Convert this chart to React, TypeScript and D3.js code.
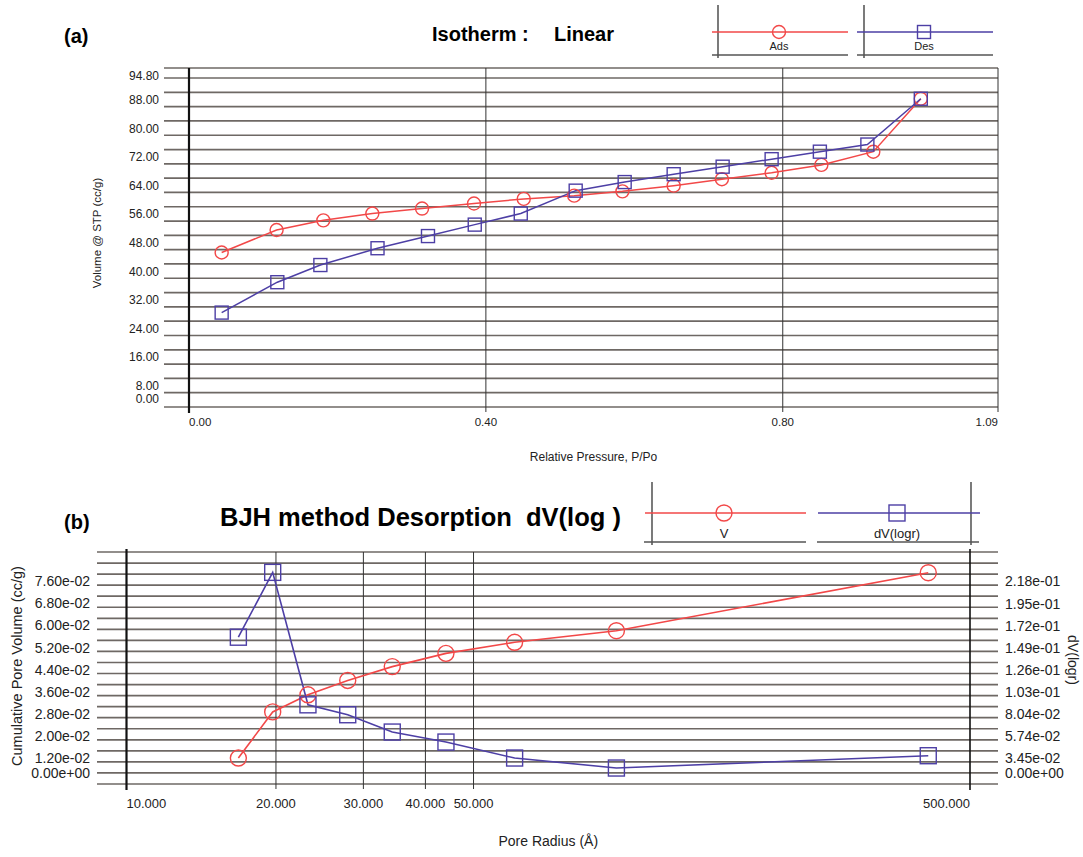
import React from "react";
import * as d3 from "d3";

// (a) isotherm, relative pressure vs volume @ STP
const adsP = [0.044, 0.118, 0.181, 0.247, 0.314, 0.384, 0.451, 0.519, 0.584, 0.653, 0.718, 0.785, 0.852, 0.922, 0.986];
const adsV = [43.2, 49.5, 52.2, 54.1, 55.5, 56.9, 58.2, 59.1, 60.3, 61.9, 63.7, 65.5, 67.7, 71.4, 86.2];
const desP = [0.044, 0.119, 0.177, 0.254, 0.322, 0.385, 0.447, 0.521, 0.587, 0.653, 0.719, 0.785, 0.85, 0.914, 0.986];
const desV = [26.4, 34.9, 39.7, 44.4, 47.8, 51.0, 54.1, 60.5, 62.9, 65.1, 67.2, 69.3, 71.4, 73.4, 86.2];
const isoYTicks = [0, 8, 16, 24, 32, 40, 48, 56, 64, 72, 80, 88, 94.8];
const isoXTicks = [0, 0.4, 0.8, 1.09];

// (b) BJH desorption
const poreR = [16.8, 19.7, 23.2, 27.9, 34.3, 44.0, 60.5, 97, 412];
const cumV = [0.0094, 0.0261, 0.0323, 0.0375, 0.0425, 0.0473, 0.0513, 0.0555, 0.0765];
const dVlogr = [0.1526, 0.22, 0.0823, 0.072, 0.054, 0.0436, 0.027, 0.0166, 0.0294];
const bjhLeftTicks = [0, 0.012, 0.02, 0.028, 0.036, 0.044, 0.052, 0.06, 0.068, 0.076];
const bjhRightTicks = [0, 0.0345, 0.0574, 0.0804, 0.103, 0.126, 0.149, 0.172, 0.195, 0.218];
const bjhXTicks = [10, 20, 30, 40, 50, 500];

const RED = "#f24848";
const BLUE = "#4d3fa5";
const GRID = "#6e6864";
const FONT = "'Liberation Sans', Arial, sans-serif";

const expFmt = (v: number) => {
  const [m, e] = v.toExponential(2).split("e");
  const sign = e[0] === "-" ? "-" : "+";
  const digits = e.replace(/[+-]/, "").padStart(2, "0");
  return `${m}e${sign}${digits}`;
};

function Circle({ x, y, r }: { x: number; y: number; r: number }) {
  return <circle cx={x} cy={y} r={r} fill="none" stroke={RED} strokeWidth={1.4} />;
}
function Square({ x, y, s }: { x: number; y: number; s: number }) {
  return <rect x={x - s / 2} y={y - s / 2} width={s} height={s} fill="none" stroke={BLUE} strokeWidth={1.4} />;
}

function Isotherm() {
  const x = d3.scaleLinear().domain([0, 1.09]).range([189, 998]);
  const y = d3.scaleLinear().domain([0, 94.8]).range([407, 68]);
  const grid = [...d3.range(0, 94.8, 4), 94.8];
  const line = d3.line<[number, number]>().x(d => x(d[0])).y(d => y(d[1]));
  const ads = adsP.map((p, i) => [p, adsV[i]] as [number, number]);
  const des = desP.map((p, i) => [p, desV[i]] as [number, number]);
  const [x0, x1] = x.range();

  return (
    <g fontFamily={FONT}>
      <text x={64} y={43} fontSize={20} fontWeight="bold">(a)</text>
      <text x={432} y={41} fontSize={20} fontWeight="bold">Isotherm :</text>
      <text x={554} y={41} fontSize={20} fontWeight="bold">Linear</text>

      {/* legend */}
      <line x1={718} x2={718} y1={5} y2={58} stroke="#333" strokeWidth={1.3} />
      <line x1={712} x2={848} y1={55} y2={55} stroke="#555" strokeWidth={1.6} />
      <line x1={712} x2={848} y1={32} y2={32} stroke={RED} strokeWidth={1.4} />
      <Circle x={779} y={32} r={6.5} />
      <text x={779} y={50} fontSize={11} textAnchor="middle" fill="#222">Ads</text>
      <line x1={864} x2={864} y1={5} y2={58} stroke="#333" strokeWidth={1.3} />
      <line x1={857} x2={993} y1={55} y2={55} stroke="#555" strokeWidth={1.6} />
      <line x1={857} x2={993} y1={32} y2={32} stroke={BLUE} strokeWidth={1.4} />
      <Square x={924} y={32} s={13} />
      <text x={924} y={50} fontSize={11} textAnchor="middle" fill="#222">Des</text>

      {grid.map(v => (
        <line key={v} x1={164} x2={x1} y1={y(v)} y2={y(v)} stroke={GRID} strokeWidth={1.7} />
      ))}
      {isoXTicks.slice(1, 3).map(v => (
        <line key={v} x1={x(v)} x2={x(v)} y1={y(94.8)} y2={y(0) + 5} stroke="#333" strokeWidth={1} />
      ))}
      <line x1={x1} x2={x1} y1={y(94.8)} y2={y(0) + 5} stroke="#333" strokeWidth={1} />
      <line x1={x0} x2={x0} y1={y(94.8)} y2={y(0) + 6} stroke="#111" strokeWidth={2.2} />

      {isoYTicks.map(v => (
        <text key={v} x={159} y={v === 0 ? y(v) - 7 : y(v) + 8.5} fontSize={12} textAnchor="end"
          dominantBaseline="middle" fill="#222">{v.toFixed(2)}</text>
      ))}
      {isoXTicks.map((v, i) => (
        <text key={v} x={x(v)} y={426} fontSize={11.5} fill="#222"
          textAnchor={i === 0 ? "start" : i === isoXTicks.length - 1 ? "end" : "middle"}>{v.toFixed(2)}</text>
      ))}
      <text x={(x0 + x1) / 2} y={461} fontSize={12} textAnchor="middle" fill="#222">Relative Pressure, P/Po</text>
      <text transform="translate(101,233) rotate(-90)" fontSize={11.5} textAnchor="middle" fill="#222">Volume @ STP (cc/g)</text>

      <path d={line(ads) ?? ""} fill="none" stroke={RED} strokeWidth={1.5} />
      <path d={line(des) ?? ""} fill="none" stroke={BLUE} strokeWidth={1.5} />
      {ads.map((d, i) => <Circle key={i} x={x(d[0])} y={y(d[1])} r={6.5} />)}
      {des.map((d, i) => <Square key={i} x={x(d[0])} y={y(d[1])} s={13} />)}
    </g>
  );
}

function BJH() {
  const x = d3.scaleLog().domain([10, 500]).range([126.5, 970]);
  const yL = d3.scaleLinear().domain([0, 0.084]).range([784, 552]);
  const yR = d3.scaleLinear().domain([0, 0.084 * 2.871]).range([784, 552]);
  const grid = d3.range(0, 0.0841, 0.004);
  const lineL = d3.line<number>().x((_, i) => x(poreR[i])).y(d => yL(d));
  const lineR = d3.line<number>().x((_, i) => x(poreR[i])).y(d => yR(d));
  const [x0, x1] = x.range();

  return (
    <g fontFamily={FONT}>
      <text x={64} y={529} fontSize={20} fontWeight="bold">(b)</text>
      <text x={220} y={526} fontSize={25.5} fontWeight="bold" style={{ whiteSpace: "pre" }}>BJH method Desorption  dV(log )</text>

      {/* legend */}
      <line x1={652} x2={652} y1={482} y2={545} stroke="#333" strokeWidth={1.3} />
      <line x1={644} x2={806} y1={542} y2={542} stroke="#555" strokeWidth={1.6} />
      <line x1={645} x2={806} y1={513} y2={513} stroke={RED} strokeWidth={1.4} />
      <Circle x={724} y={513} r={8} />
      <text x={724} y={538} fontSize={13} textAnchor="middle" fill="#222">V</text>
      <line x1={971} x2={971} y1={482} y2={545} stroke="#333" strokeWidth={1.3} />
      <line x1={817} x2={979} y1={542} y2={542} stroke="#555" strokeWidth={1.6} />
      <line x1={818} x2={980} y1={513} y2={513} stroke={BLUE} strokeWidth={1.4} />
      <Square x={897} y={513} s={16} />
      <text x={897} y={538} fontSize={13} textAnchor="middle" fill="#222">dV(logr)</text>

      {grid.map(v => (
        <line key={v} x1={97} x2={998} y1={yL(v)} y2={yL(v)} stroke={GRID} strokeWidth={1.7} />
      ))}
      {bjhXTicks.slice(1, -1).map(v => (
        <line key={v} x1={x(v)} x2={x(v)} y1={552} y2={789} stroke="#333" strokeWidth={1} />
      ))}
      <line x1={x0} x2={x0} y1={549} y2={790} stroke="#111" strokeWidth={2.2} />
      <line x1={x1} x2={x1} y1={549} y2={790} stroke="#111" strokeWidth={1.6} />

      {bjhLeftTicks.map(v => (
        <text key={v} x={90} y={v === 0 ? yL(v) - 10 : yL(v) + 8.5} fontSize={14} textAnchor="end"
          dominantBaseline="middle" fill="#222">{expFmt(v)}</text>
      ))}
      {bjhRightTicks.map(v => (
        <text key={v} x={1005} y={v === 0 ? yR(v) - 10 : yR(v) + 8.5} fontSize={14} textAnchor="start"
          dominantBaseline="middle" fill="#222">{expFmt(v)}</text>
      ))}
      {bjhXTicks.map((v, i) => (
        <text key={v} x={x(v)} y={808} fontSize={13} fill="#222"
          textAnchor={i === 0 ? "start" : i === bjhXTicks.length - 1 ? "end" : "middle"}>{v.toFixed(3)}</text>
      ))}
      <text x={(x0 + x1) / 2} y={846} fontSize={14} textAnchor="middle" fill="#222">Pore Radius (Å)</text>
      <text transform="translate(22,666) rotate(-90)" fontSize={14.5} textAnchor="middle" fill="#222">Cumulative Pore Volume (cc/g)</text>
      <text transform="translate(1068,660) rotate(90)" fontSize={14} textAnchor="middle" fill="#222">dV(logr)</text>

      <path d={lineL(cumV) ?? ""} fill="none" stroke={RED} strokeWidth={1.6} />
      <path d={lineR(dVlogr) ?? ""} fill="none" stroke={BLUE} strokeWidth={1.6} />
      {cumV.map((v, i) => <Circle key={i} x={x(poreR[i])} y={yL(v)} r={8} />)}
      {dVlogr.map((v, i) => <Square key={i} x={x(poreR[i])} y={yR(v)} s={16} />)}
    </g>
  );
}

export default function App() {
  return (
    <svg width={1083} height={857} style={{ position: "absolute", left: 0, top: 0, background: "#fff" }}>
      <rect width={1083} height={857} fill="#fff" />
      <Isotherm />
      <BJH />
    </svg>
  );
}
